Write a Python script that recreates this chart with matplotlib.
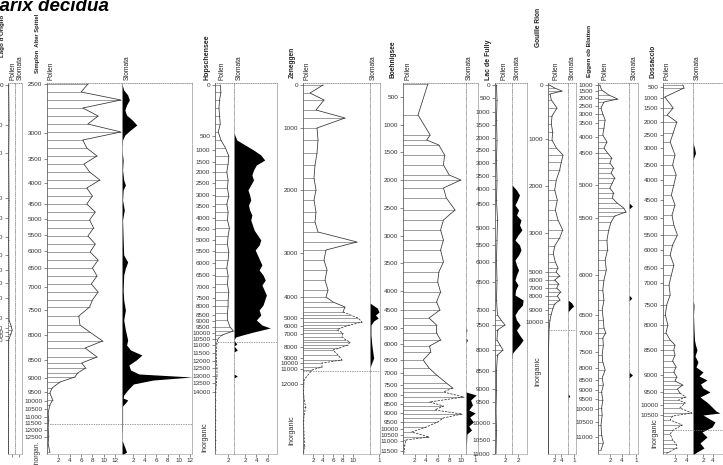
import matplotlib.pyplot as plt

plt.rcParams['font.family'] = ['Liberation Sans', 'DejaVu Sans']

W, H = 723, 465
TOP, BOT = 83, 454   # common depth window of the diagram (cm)

# ---- Lago d'Origlio ----
origlio_tick_depth = [85, 125, 153, 198, 218, 237, 255, 270, 283, 298, 318, 328, 332, 336, 340]
origlio_tick_age = [0, 1000, 2000, 3000, 4000, 5000, 6000, 7000, 8000, 8500, 9000, 9500, 10000, 10500, 11000]
origlio_depth = [85, 120, 160, 200, 240, 280, 320, 326, 330, 334, 340, 380, 420, 454]
origlio_pollen = [0.2, 0.3, 0.2, 0.3, 0.2, 0.3, 0.3, 0.9, 1.2, 0.8, 0.2, 0.2, 0.1, 0.1]

# ---- Simplon Alter Spittel ----
simplon_tick_depth = [84, 133, 159, 183, 204, 219, 235, 251, 268, 287, 310, 335, 360, 378, 392,
                      401, 409, 417, 423, 430, 437]
simplon_tick_age = [2500, 3000, 3500, 4000, 4500, 5000, 5500, 6000, 6500, 7000, 7500, 8000, 8500,
                    9000, 9500, 10000, 10500, 11000, 11500, 12000, 12500]
simplon_depth = [84, 92, 100, 108, 116, 124, 132, 140, 148, 156, 164, 172, 180, 188, 196, 204, 212,
                 220, 228, 236, 244, 252, 260, 268, 276, 284, 292, 300, 307, 316, 325, 332, 341, 348,
                 357, 363, 368, 373, 377, 382, 388, 393, 400, 405, 413, 420, 428, 436, 444, 452]
simplon_pollen = [7.2, 6.0, 13.0, 6.3, 9.0, 7.2, 13.0, 6.3, 7.0, 8.8, 6.5, 7.5, 9.3, 7.0, 8.0, 7.0,
                  8.5, 7.5, 8.2, 7.2, 8.5, 7.6, 9.0, 8.0, 8.8, 7.8, 9.0, 8.0, 7.5, 5.6, 5.8, 7.5, 9.8,
                  6.7, 8.8, 6.1, 6.8, 5.4, 4.9, 2.3, 0.9, 0.5, 1.0, 0.5, 0.2, 0.3, 0.2, 0.3, 0.2, 0.5]
simplon_st_depth = [84, 90, 95, 100, 105, 110, 115, 120, 125, 130, 135, 140, 150, 160, 170, 180, 185,
                    190, 200, 210, 220, 240, 255, 262, 268, 275, 290, 300, 310, 320, 330, 340, 345,
                    350, 355, 360, 365, 370, 374, 377, 380, 384, 390, 395, 398, 400, 403, 406, 415,
                    425, 440, 452, 455]
simplon_stomata = [0, 0.3, 1.0, 1.3, 0.8, 0.5, 0.8, 1.8, 2.6, 1.5, 0.5, 0.1, 0, 0.2, 0.1, 0.3, 0.6,
                   0.2, 0.1, 0.4, 0.1, 0.2, 0.3, 1.0, 0.6, 0.3, 0.2, 0.3, 0.6, 0.3, 0.6, 1.0, 0.8,
                   1.5, 3.5, 2.5, 1.2, 1.5, 3.0, 12.3, 5.5, 2.0, 1.0, 0.3, 0.2, 1.0, 0.6, 0.1, 0.1,
                   0.1, 0, 0.8, 0]
simplon_inorganic = 424

# ---- Hopschensee ----
hops_tick_depth = [85, 136, 150, 162, 172, 183, 195, 206, 218, 229, 240, 251, 263, 275, 287, 298,
                   306, 315, 321, 327, 333, 339, 345, 353, 361, 368, 376, 383, 392]
hops_tick_age = [0, 500, 1000, 1500, 2000, 2500, 3000, 3500, 4000, 4500, 5000, 5500, 6000, 6500,
                 7000, 7500, 8000, 8500, 9000, 9500, 10000, 10500, 11000, 11500, 12000, 12500,
                 13000, 13500, 14000]
hops_depth = [85, 92, 100, 108, 116, 124, 132, 140, 148, 156, 164, 172, 180, 188, 196, 204, 212, 220,
              228, 236, 244, 252, 260, 268, 276, 284, 292, 300, 306, 313, 320, 327, 331, 335, 339,
              343, 350, 360, 368, 376, 384, 392, 400, 410, 420, 430, 440, 450]
hops_pollen = [0.8, 0.9, 0.7, 0.6, 0.7, 0.8, 0.5, 0.9, 1.6, 2.1, 2.0, 1.8, 2.0, 1.9, 2.1, 1.8, 2.0,
               1.9, 2.2, 2.0, 1.9, 2.1, 2.0, 1.8, 2.0, 1.9, 2.1, 2.0, 2.0, 1.9, 1.9, 2.3, 2.8, 1.1,
               0.4, 0.3, 0.2, 0.2, 0.3, 0.3, 0.2, 0.1, 0.1, 0.1, 0.1, 0.1, 0.1, 0.1]
hops_st_depth = [84, 133, 140, 145, 150, 155, 160, 165, 170, 175, 180, 185, 190, 195, 200, 205, 210,
                 215, 220, 225, 230, 235, 240, 245, 250, 255, 260, 265, 270, 275, 280, 285, 290, 295,
                 300, 305, 310, 315, 320, 325, 328, 332, 335, 337, 340, 344, 346, 350, 352, 374, 376,
                 378, 454]
hops_stomata = [0, 0, 0.5, 2.0, 3.5, 4.8, 5.5, 4.0, 3.5, 3.2, 3.5, 3.0, 2.5, 2.8, 3.0, 2.6, 2.8, 3.2,
                3.0, 3.3, 3.6, 4.2, 4.8, 4.5, 3.8, 4.2, 4.6, 5.0, 4.5, 5.2, 5.6, 5.0, 5.4, 5.8, 5.5,
                5.2, 4.5, 4.8, 4.0, 5.0, 6.5, 3.5, 1.5, 0.3, 0, 0.5, 0, 0.6, 0, 0, 0.6, 0, 0]
hops_inorganic = 342

# ---- Zeneggen ----
zen_tick_depth = [85, 128, 190, 253, 297, 318, 326, 334, 347, 358, 363, 369, 384]
zen_tick_age = [0, 1000, 2000, 3000, 4000, 5000, 6000, 7000, 8000, 9000, 10000, 11000, 12000]
zen_depth = [85, 93, 100, 110, 118, 128, 140, 153, 165, 178, 190, 200, 212, 222, 232, 242, 250, 260,
             270, 280, 290, 297, 302, 307, 312, 315, 318, 322, 325, 328, 330, 333, 337, 340, 342, 345,
             348, 350, 355, 360, 363, 367, 370, 380, 395, 407, 420, 446, 454]
zen_pollen = [4.0, 1.4, 4.2, 2.6, 8.4, 2.8, 3.0, 2.8, 2.4, 2.2, 2.6, 2.2, 2.6, 2.4, 3.0, 10.8, 4.6,
              4.2, 4.8, 4.4, 5.0, 4.6, 6.0, 8.4, 8.0, 9.5, 11.0, 11.8, 9.4, 7.5, 6.8, 8.0, 7.8, 8.6,
              9.4, 9.0, 7.2, 6.0, 7.0, 7.8, 3.8, 3.8, 1.8, 0.2, 0.1, 0.5, 0.1, 0.3, 0.1]
zen_st_depth = [84, 303, 305, 308, 312, 315, 318, 321, 325, 335, 345, 358, 365, 368, 454]
zen_stomata = [0, 0, 0.3, 0.8, 1.0, 0.6, 0.9, 0.4, 0.1, 0.1, 0.2, 0.4, 0.1, 0, 0]
zen_inorganic = 371

# ---- Boehnigsee ----
boe_tick_depth = [97, 125, 152, 180, 208, 236, 263, 291, 310, 328, 344, 360, 373, 385, 395, 404,
                  413, 422, 429, 435, 441, 451]
boe_tick_age = [500, 1000, 1500, 2000, 2500, 3000, 3500, 4000, 4500, 5000, 6000, 6500, 7000, 7500,
                8000, 8500, 9000, 9500, 10000, 10500, 11000, 11500]
boe_depth = [84, 115, 135, 140, 145, 155, 165, 175, 180, 188, 198, 210, 220, 230, 240, 250, 262, 272,
             282, 292, 302, 310, 318, 325, 333, 340, 346, 352, 360, 368, 375, 383, 388, 392, 397,
             402, 406, 410, 414, 418, 422, 427, 432, 437, 440, 445, 452]
boe_pollen = [4.3, 2.6, 4.7, 4.1, 6.2, 7.2, 7.0, 8.0, 10.0, 7.0, 7.5, 9.0, 7.0, 6.5, 7.0, 6.5, 7.0,
              6.2, 6.0, 6.5, 5.8, 6.4, 4.5, 5.8, 5.8, 6.5, 4.6, 4.8, 3.5, 4.5, 5.8, 7.5, 8.6, 7.0,
              10.5, 4.6, 7.0, 5.5, 10.2, 7.0, 6.0, 4.0, 1.5, 4.5, 0.5, 0.3, 0.2]
boe_st_depth = [84, 328, 330, 333, 338, 340, 343, 392, 395, 400, 405, 410, 413, 417, 422, 426, 430,
                434, 454]
boe_stomata = [0, 0, 0.1, 0, 0, 0.15, 0, 0, 1.1, 0.5, 0.7, 0.3, 1.0, 0.4, 0.8, 0.3, 0.6, 0.1, 0]

# ---- Lac de Fully ----
fully_tick_depth = [85, 98, 112, 125, 138, 150, 163, 176, 189, 204, 228, 245, 262, 282, 310, 325,
                    350, 371, 389, 402, 423, 440, 454]
fully_tick_age = [0, 500, 1000, 1500, 2000, 2500, 3000, 3500, 4000, 4500, 5000, 5500, 6000, 6500,
                  7000, 7500, 8000, 8500, 9000, 9500, 10000, 10500, 11000]
fully_depth = [85, 100, 120, 140, 160, 180, 200, 220, 240, 260, 280, 300, 315, 320, 325, 330, 340,
               345, 350, 355, 370, 390, 410, 430, 454]
fully_pollen = [0.3, 0.4, 0.3, 0.4, 0.3, 0.4, 0.3, 0.5, 0.4, 0.3, 0.4, 0.3, 0.5, 1.2, 2.0, 0.5, 0.4,
                1.0, 1.6, 0.5, 0.3, 0.3, 0.2, 0.3, 0.2]
fully_st_depth = [84, 185, 190, 195, 200, 205, 210, 215, 220, 225, 230, 235, 240, 245, 250, 255, 260,
                  265, 270, 275, 280, 285, 290, 295, 300, 305, 310, 315, 320, 325, 330, 335, 340,
                  345, 350, 353, 360, 454]
fully_stomata = [0, 0, 1.5, 2.5, 1.8, 1.0, 2.2, 1.5, 3.0, 2.5, 3.3, 2.0, 1.0, 2.5, 3.0, 2.2, 1.0,
                 1.5, 2.2, 1.5, 1.0, 2.0, 1.2, 1.0, 3.7, 3.5, 2.0, 1.0, 1.5, 2.7, 1.5, 2.5, 3.7,
                 2.5, 1.0, 0.2, 0, 0]

# ---- Gouille Rion ----
gou_tick_depth = [85, 139, 186, 233, 272, 280, 288, 296, 310, 322]
gou_tick_age = [0, 1000, 2000, 3000, 5000, 6000, 7000, 8000, 9000, 10000]
gou_depth = [85, 88, 91, 94, 100, 108, 116, 124, 132, 140, 148, 155, 162, 170, 180, 190, 200, 210,
             220, 230, 238, 246, 254, 262, 268, 272, 276, 280, 284, 288, 292, 296, 300, 304, 308,
             314, 320, 326, 330, 360, 400, 454]
gou_pollen = [0.4, 2.0, 4.2, 0.6, 1.0, 2.7, 1.2, 1.0, 1.4, 1.2, 2.5, 4.5, 4.0, 3.5, 2.5, 2.0, 2.8,
              2.2, 3.0, 4.4, 3.5, 2.0, 1.6, 2.2, 3.0, 2.4, 3.5, 2.0, 3.2, 2.6, 3.8, 2.8, 3.6, 2.0,
              1.5, 1.0, 0.6, 0.4, 0.3, 0.1, 0.1, 0.1]
gou_st_depth = [84, 300, 303, 306, 309, 312, 394, 396, 398, 454]
gou_stomata = [0, 0, 0.6, 0.9, 0.4, 0, 0, 0.3, 0, 0]
gou_inorganic = 330

# ---- Eggen ob Blatten ----
egg_tick_depth = [85, 91, 98, 106, 114, 123, 137, 153, 185, 218, 275, 315, 333, 352, 368, 380, 390,
                  399, 409, 422, 437]
egg_tick_age = [1000, 1500, 2000, 2500, 3000, 3500, 4000, 4500, 5000, 5500, 6000, 6500, 7000, 7500,
                8000, 8500, 9000, 9500, 10000, 10500, 11000]
egg_depth = [85, 90, 95, 99, 102, 108, 114, 120, 128, 135, 142, 148, 153, 158, 163, 168, 173, 178,
             183, 188, 193, 198, 203, 208, 212, 216, 222, 230, 240, 250, 260, 270, 280, 290, 300,
             310, 320, 328, 333, 338, 345, 355, 362, 370, 378, 385, 392, 400, 408, 415, 425, 435,
             443, 450]
egg_pollen = [0.3, 0.6, 1.8, 3.3, 1.0, 0.5, 0.8, 1.2, 1.0, 0.8, 1.5, 1.0, 1.6, 2.3, 2.0, 2.6, 2.2,
              2.8, 2.4, 2.0, 2.6, 2.4, 3.2, 4.3, 4.7, 2.8, 2.2, 1.8, 1.5, 1.6, 1.2, 1.4, 1.0, 0.8,
              1.0, 0.7, 0.9, 1.0, 1.3, 0.8, 0.9, 0.7, 0.8, 1.2, 0.7, 0.9, 0.6, 0.8, 0.6, 0.7, 0.5,
              0.6, 0.9, 0.5]
egg_st_depth = [84, 203, 206, 209, 295, 298, 301, 372, 375, 378, 454]
egg_stomata = [0, 0, 0.5, 0, 0, 0.4, 0, 0, 0.5, 0, 0]

# ---- Dossaccio ----
dos_tick_depth = [87, 98, 108, 122, 135, 148, 165, 180, 200, 218, 235, 250, 268, 283, 305, 325, 350,
                  375, 392, 405, 415]
dos_tick_age = [500, 1000, 1500, 2000, 2500, 3000, 3500, 4000, 4500, 5000, 5500, 6000, 6500, 7000,
                7500, 8000, 8500, 9000, 9500, 10000, 10500]
dos_depth = [85, 88, 97, 108, 115, 122, 133, 142, 155, 165, 175, 185, 195, 205, 215, 225, 235, 245,
             255, 265, 275, 285, 295, 305, 315, 325, 333, 340, 345, 350, 355, 361, 367, 372, 377,
             381, 385, 389, 393, 397, 400, 403, 408, 413, 416, 420, 425, 430, 434, 440, 444, 448,
             452, 454]
dos_pollen = [3.3, 3.5, 0.3, 1.7, 0.7, 2.3, 1.7, 1.2, 2.0, 1.6, 2.2, 1.8, 1.4, 2.0, 1.5, 1.8, 2.4,
              1.6, 1.2, 1.8, 1.4, 1.0, 1.2, 0.6, 0.4, 0.8, 0.5, 1.2, 2.0, 1.8, 2.0, 1.6, 2.2, 1.8,
              2.3, 2.0, 3.3, 2.4, 2.8, 3.8, 2.6, 3.7, 2.8, 4.8, 1.6, 1.2, 3.2, 1.7, 1.2, 1.6, 2.2,
              2.3, 1.0, 0.4]
dos_st_depth = [84, 143, 148, 153, 157, 160, 300, 305, 315, 330, 340, 345, 350, 356, 362, 367, 372,
                376, 380, 384, 388, 392, 397, 400, 403, 408, 411, 413, 415, 418, 422, 427, 432, 437,
                443, 448, 452, 454]
dos_stomata = [0, 0, 0.3, 0.5, 0.2, 0, 0, 0.2, 0.1, 0.2, 0.3, 0.5, 0.8, 0.4, 1.0, 0.6, 2.0, 1.2,
               2.8, 1.5, 2.0, 3.4, 1.4, 2.2, 3.0, 4.0, 4.6, 5.4, 2.0, 3.0, 4.4, 3.8, 1.8, 2.8, 1.4,
               2.2, 0.8, 0.2]
dos_inorganic = 430

fig = plt.figure(figsize=(W / 100, H / 100), dpi=100)


def add_panel(x0, x1, xmax, xticks, kind):
    ax = fig.add_axes([x0 / W, 1 - BOT / H, (x1 - x0) / W, (BOT - TOP) / H])
    ax.patch.set_alpha(0)
    ax.set_xlim(0, xmax)
    ax.set_ylim(BOT, TOP)
    ax.set_xticks(xticks)
    ax.tick_params(axis='x', labelsize=4.5, length=2, width=0.4, pad=1, colors='#333')
    ax.spines['top'].set_linestyle(':')
    ax.spines['top'].set_color('#777')
    ax.spines['bottom'].set_color('#aaa')
    for s in ax.spines.values():
        s.set_linewidth(0.5)
    if kind == 'pollen':
        ax.spines['right'].set_visible(False)
        ax.spines['left'].set_color('#444')
    else:
        ax.spines['left'].set_linestyle('-.')
        ax.spines['left'].set_color('#888')
        ax.spines['right'].set_color('#999')
        ax.set_yticks([])
    return ax


def draw_pollen(ax, depth, vals, tick_d, tick_a, dash_from=None):
    ax.hlines(depth, 0, vals, color='#666', lw=0.45)
    if dash_from is None:
        ax.plot(vals, depth, color='#333', lw=0.55)
    else:
        k = sum(d <= dash_from for d in depth)
        ax.plot(vals[:k], depth[:k], color='#333', lw=0.55)
        ax.plot(vals[k - 1:], depth[k - 1:], color='#333', lw=0.55, ls=(0, (3, 1.5)))
    ax.set_yticks(tick_d)
    ax.set_yticklabels([str(a) for a in tick_a])
    ax.tick_params(axis='y', labelsize=4.6, length=2.5, width=0.4, pad=0.8, colors='#333')


def draw_stomata(ax, depth, vals):
    ax.fill_betweenx(depth, 0, vals, color='black', lw=0)


def inorganic(axes, depth, label=None, lx=None, ly=None, size=5.2):
    for a in axes:
        a.axhline(depth, color='#777', lw=0.5, ls=(0, (2, 1.5)))
    if label:
        fig.text(lx / W, 1 - ly / H, label, rotation=90, fontsize=size, color='#333',
                 ha='center', va='bottom')


def head(x, y, text, bold=False, size=4.8):
    fig.text(x / W, 1 - y / H, text, rotation=90, fontsize=size, ha='center', va='bottom',
             fontweight='bold' if bold else 'normal', color='#222')


# Lago d'Origlio (cut at the left edge)
ax = add_panel(8, 15, 2, [1], 'pollen')
ax.set_xticklabels([''])
draw_pollen(ax, origlio_depth, origlio_pollen, origlio_tick_depth, origlio_tick_age)
ax.spines['left'].set_linestyle(':')
ax2 = add_panel(15, 22, 2, [1], 'stomata')
ax2.set_xticklabels([''])
head(3, 57, "Lago d'Origlio", bold=True, size=4.5)
head(13, 80, 'Pollen')
head(20, 80, 'Stomata')

# Simplon
ax = add_panel(47, 122, 13.2, [2, 4, 6, 8, 10, 12], 'pollen')
draw_pollen(ax, simplon_depth, simplon_pollen, simplon_tick_depth, simplon_tick_age)
ax2 = add_panel(122, 192, 12.3, [2, 4, 6, 8, 10, 12], 'stomata')
draw_stomata(ax2, simplon_st_depth, simplon_stomata)
inorganic([ax, ax2], simplon_inorganic, 'Inorgan.', 37, 465, size=4.8)
head(37, 73, 'Simplon  Alter Spittel', bold=True, size=4.2)
head(51, 80, 'Pollen')
head(127, 80, 'Stomata')

# Hopschensee
ax = add_panel(215, 234, 2.9, [2], 'pollen')
draw_pollen(ax, hops_depth, hops_pollen, hops_tick_depth, hops_tick_age, dash_from=335)
ax2 = add_panel(234, 277, 7.7, [2, 4, 6], 'stomata')
draw_stomata(ax2, hops_st_depth, hops_stomata)
inorganic([ax, ax2], hops_inorganic, 'Inorganic', 205, 452)
head(207, 80, 'Hopschensee', bold=True, size=5)
head(222, 80, 'Pollen')
head(239, 80, 'Stomata')

# Zeneggen
ax = add_panel(303, 370, 13.4, [2, 4, 6, 8, 10], 'pollen')
draw_pollen(ax, zen_depth, zen_pollen, zen_tick_depth, zen_tick_age, dash_from=312)
ax2 = add_panel(370, 380, 1.1, [1], 'stomata')
draw_stomata(ax2, zen_st_depth, zen_stomata)
inorganic([ax, ax2], zen_inorganic, 'Inorganic', 292, 445)
head(292, 78, 'Zeneggen', bold=True)
head(307, 80, 'Pollen')
head(373, 80, 'Stomata')

# Boehnigsee
ax = add_panel(403, 466, 10.9, [2, 4, 6, 8, 10], 'pollen')
draw_pollen(ax, boe_depth, boe_pollen, boe_tick_depth, boe_tick_age, dash_from=388)
ax2 = add_panel(466, 478, 1.3, [1], 'stomata')
draw_stomata(ax2, boe_st_depth, boe_stomata)
head(393, 78, 'Boehnigsee', bold=True)
head(408, 80, 'Pollen')
head(469, 80, 'Stomata')

# Lac de Fully
ax = add_panel(495, 512, 3.4, [2], 'pollen')
draw_pollen(ax, fully_depth, fully_pollen, fully_tick_depth, fully_tick_age)
ax2 = add_panel(512, 527, 5, [2], 'stomata')
draw_stomata(ax2, fully_st_depth, fully_stomata)
head(488, 80, 'Lac de Fully', bold=True, size=5)
head(504, 80, 'Pollen')
head(517, 80, 'Stomata')

# Gouille Rion
ax = add_panel(548, 568, 6, [2, 4], 'pollen')
draw_pollen(ax, gou_depth, gou_pollen, gou_tick_depth, gou_tick_age)
ax2 = add_panel(568, 576, 1.3, [1], 'stomata')
draw_stomata(ax2, gou_st_depth, gou_stomata)
inorganic([ax, ax2], gou_inorganic, 'Inorganic', 538, 386)
head(539, 47, 'Gouille Rion', bold=True)
head(556, 80, 'Pollen')
head(572, 80, 'Stomata')

# Eggen ob Blatten
ax = add_panel(598, 629, 5.2, [2, 4], 'pollen')
draw_pollen(ax, egg_depth, egg_pollen, egg_tick_depth, egg_tick_age)
ax2 = add_panel(629, 638, 1.3, [1], 'stomata')
draw_stomata(ax2, egg_st_depth, egg_stomata)
head(590, 77, 'Eggen ob Blatten', bold=True, size=4.6)
head(605, 80, 'Pollen')
head(634, 80, 'Stomata')

# Dossaccio
ax = add_panel(663, 693, 5, [2, 4], 'pollen')
draw_pollen(ax, dos_depth, dos_pollen, dos_tick_depth, dos_tick_age, dash_from=395)
ax2 = add_panel(693, 723, 6, [2, 4], 'stomata')
draw_stomata(ax2, dos_st_depth, dos_stomata)
inorganic([ax, ax2], dos_inorganic, 'Inorganic', 655, 448)
head(653, 78, 'Dossaccio', bold=True)
head(667, 80, 'Pollen')
head(697, 80, 'Stomata')

fig.text(-11.5 / W, 1 - 11 / H, 'Larix decidua', fontsize=13.5, fontweight='bold',
         style='italic', va='baseline', ha='left')

fig.savefig('out.png', dpi=100)
